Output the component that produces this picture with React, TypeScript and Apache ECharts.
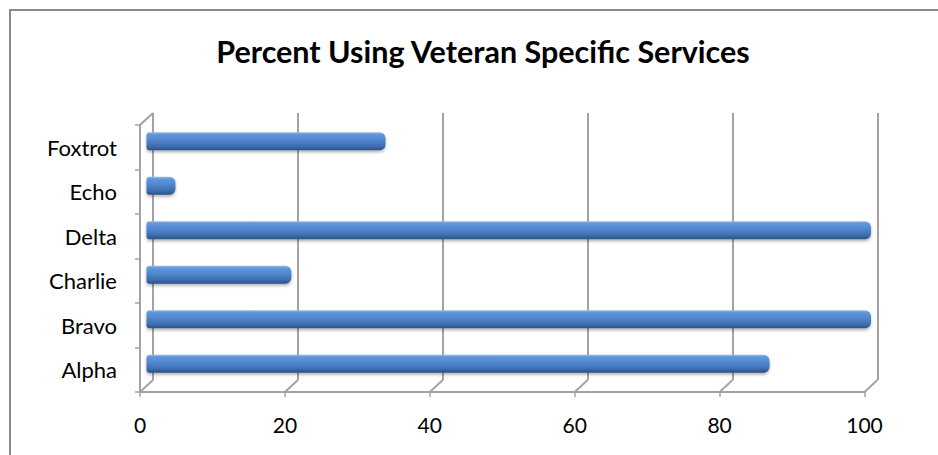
import React, { useEffect, useRef } from "react";
import * as echarts from "echarts";

// Chart data
const categories = ["Alpha", "Bravo", "Charlie", "Delta", "Echo", "Foxtrot"];
const percentUsing = [86, 100, 20, 100, 4, 33];
const xTicks = [0, 20, 40, 60, 80, 100];

const titleText = "Percent Using Veteran Specific Services";

// Depth of the pseudo-3D walls, in pixels
const DEPTH_X = 13;
const DEPTH_Y = 12;

const FONT = "Lato, 'Noto Sans', sans-serif";
const LINE = "#a3a3a3";

export default function App() {
  const ref = useRef<HTMLDivElement>(null);

  useEffect(() => {
    document.body.style.margin = "0";
    const chart = echarts.init(ref.current!, null, { renderer: "svg" });

    // front plane (axes), mid plane (bars) and back wall (gridlines)
    const front = { left: 140, right: 73.5, top: 125, bottom: 63 };
    const mid = {
      left: front.left + DEPTH_X / 2,
      right: front.right - DEPTH_X / 2,
      top: front.top - DEPTH_Y / 2,
      bottom: front.bottom + DEPTH_Y / 2,
    };
    const back = {
      left: front.left + DEPTH_X,
      right: front.right - DEPTH_X,
      top: front.top - DEPTH_Y,
      bottom: front.bottom + DEPTH_Y,
    };

    const valueAxisBase = { type: "value" as const, min: 0, max: 100, interval: 20 };

    chart.setOption({
      animation: false,
      backgroundColor: "#ffffff",
      title: {
        text: titleText,
        left: 478,
        top: 30,
        textAlign: "center",
        textStyle: {
          fontFamily: FONT,
          fontWeight: "bold",
          fontSize: 30.5,
          color: "#000000",
        },
      },
      graphic: [
        {
          type: "rect",
          shape: { x: 10, y: 10, width: 940, height: 460 },
          style: { fill: "none", stroke: "#8a8a8a", lineWidth: 2 },
          silent: true,
        },
      ],
      grid: [
        { ...back, containLabel: false },
        { ...front, containLabel: false },
        { ...mid, containLabel: false },
      ],
      xAxis: [
        {
          ...valueAxisBase,
          gridIndex: 0,
          axisLine: { show: false },
          axisTick: { show: false },
          axisLabel: { show: false },
          splitLine: { show: true, lineStyle: { color: LINE, width: 2 } },
        },
        {
          ...valueAxisBase,
          gridIndex: 1,
          axisLine: { show: true, lineStyle: { color: LINE, width: 2 } },
          axisTick: { show: true, length: 5, lineStyle: { color: LINE, width: 1.5 } },
          axisLabel: {
            show: true,
            margin: 22,
            fontFamily: FONT,
            fontSize: 21,
            color: "#000000",
          },
          splitLine: { show: false },
        },
        {
          ...valueAxisBase,
          gridIndex: 2,
          show: false,
        },
      ],
      yAxis: [
        {
          type: "category",
          gridIndex: 0,
          data: categories,
          show: false,
        },
        {
          type: "category",
          gridIndex: 1,
          data: categories,
          axisLine: { show: true, lineStyle: { color: LINE, width: 2 } },
          axisTick: { show: true, length: 5, lineStyle: { color: LINE, width: 1.5 } },
          axisLabel: {
            show: true,
            margin: 23,
            padding: [6, 0, 0, 0],
            fontFamily: FONT,
            fontSize: 22,
            color: "#000000",
          },
          splitLine: { show: false },
        },
        {
          type: "category",
          gridIndex: 2,
          data: categories,
          show: false,
        },
      ],
      series: [
        {
          // diagonal floor and wall edges joining the front axes to the back wall
          type: "custom",
          xAxisIndex: 1,
          yAxisIndex: 1,
          data: xTicks,
          silent: true,
          z: 1,
          renderItem: (params: any, api: any) => {
            const cs = params.coordSys;
            const x = api.coord([api.value(0), 0])[0];
            const yb = cs.y + cs.height;
            const children: any[] = [
              {
                type: "line",
                shape: { x1: x, y1: yb, x2: x + DEPTH_X, y2: yb - DEPTH_Y },
                style: { stroke: LINE, lineWidth: 2 },
              },
            ];
            if (params.dataIndex === 0) {
              children.push({
                type: "line",
                shape: {
                  x1: cs.x,
                  y1: cs.y,
                  x2: cs.x + DEPTH_X,
                  y2: cs.y - DEPTH_Y,
                },
                style: { stroke: LINE, lineWidth: 2 },
              });
            }
            return { type: "group", children };
          },
        },
        {
          type: "bar",
          xAxisIndex: 2,
          yAxisIndex: 2,
          data: percentUsing,
          barWidth: 18,
          z: 3,
          itemStyle: {
            borderRadius: [3, 6, 6, 3],
            color: new echarts.graphic.LinearGradient(0, 0, 0, 1, [
              { offset: 0, color: "#9fbbe0" },
              { offset: 0.12, color: "#6197dc" },
              { offset: 0.45, color: "#4f86cd" },
              { offset: 0.8, color: "#3d6cab" },
              { offset: 1, color: "#2c4f82" },
            ]),
            shadowColor: "rgba(0,0,0,0.3)",
            shadowBlur: 3,
            shadowOffsetY: 2,
          },
        },
      ],
    });

    return () => chart.dispose();
  }, []);

  return <div ref={ref} style={{ width: 938, height: 455 }} />;
}
